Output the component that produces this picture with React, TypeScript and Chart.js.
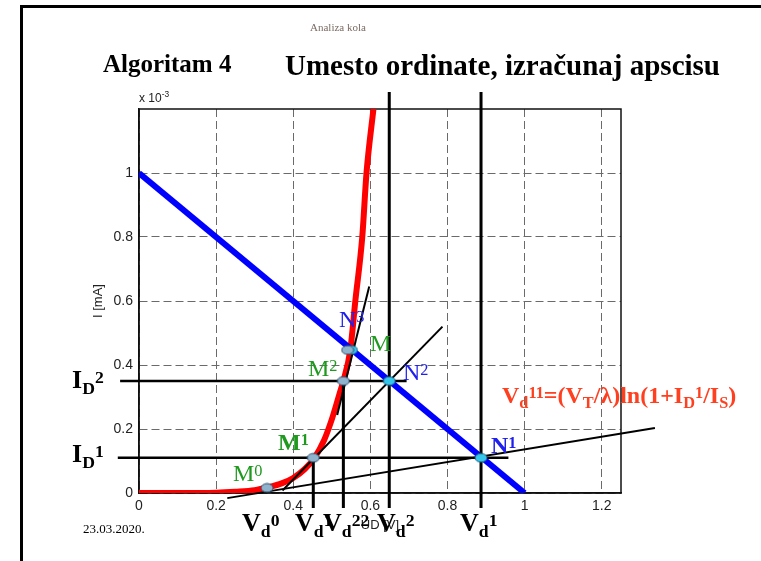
import React, { useEffect, useRef } from 'react';
import { Chart, registerables } from 'chart.js';

Chart.register(...registerables);

// ---- axis ticks ----
const X_TICKS = [0, 0.2, 0.4, 0.6, 0.8, 1, 1.2];
const Y_TICKS = [0, 0.2, 0.4, 0.6, 0.8, 1];
const X_MIN = 0;
const X_MAX = 1.25;
const Y_MIN = 0;
const Y_MAX = 1.2;

// ---- load line (blue) ----
const LOAD_X = [0, 1.0];
const LOAD_Y = [1.0, 0];

// ---- diode characteristic (red) ----
const DIODE_X = [0, 0.1, 0.2, 0.25, 0.3, 0.335, 0.37, 0.4, 0.43, 0.455, 0.48, 0.5, 0.52, 0.53, 0.548, 0.561, 0.579, 0.59, 0.608];
const DIODE_Y = [0, 0, 0.001, 0.004, 0.009, 0.018, 0.03, 0.047, 0.075, 0.11, 0.165, 0.23, 0.31, 0.35, 0.447, 0.6, 0.8, 1.0, 1.2];

// ---- tangent lines (black) ----
const TAN0_X = [0.229, 1.338];
const TAN0_Y = [-0.016, 0.203];
const TAN1_X = [0.372, 0.787];
const TAN1_Y = [0.008, 0.52];
const TAN2_X = [0.514, 0.597];
const TAN2_Y = [0.244, 0.645];

// ---- current levels I_D^1, I_D^2 (horizontal arrows) ----
const ID1_X = [-0.055, 0.958];
const ID1_Y = [0.11, 0.11];
const ID2_X = [-0.049, 0.694];
const ID2_Y = [0.35, 0.35];

// ---- voltage levels (vertical lines) ----
const VD_A_X = [0.452, 0.452];
const VD_A_Y = [0.11, -0.047];
const VD_B_X = [0.53, 0.53];
const VD_B_Y = [0.35, -0.047];
const VD_C_X = [0.649, 0.649];
const VD_C_Y = [1.253, -0.047];
const VD_D_X = [0.887, 0.887];
const VD_D_Y = [1.253, -0.047];

// ---- points M (on diode curve) and N (on load line) ----
const M_X = [0.332, 0.452, 0.53, 0.541];
const M_Y = [0.016, 0.11, 0.35, 0.447];
const N_X = [0.551, 0.649, 0.887];
const N_Y = [0.447, 0.35, 0.11];

const zip = (xs: number[], ys: number[]) => xs.map((x, i) => ({ x, y: ys[i] }));

function ellipse(fill: string, stroke: string) {
  const c = document.createElement('canvas');
  c.width = 14;
  c.height = 11;
  const g = c.getContext('2d')!;
  g.beginPath();
  g.ellipse(7, 5.5, 6, 4.3, 0, 0, Math.PI * 2);
  g.fillStyle = fill;
  g.fill();
  g.lineWidth = 1;
  g.strokeStyle = stroke;
  g.stroke();
  return c;
}

const fmt = (v: number) => String(Math.round(v * 10) / 10);

type LProps = {
  x: number;
  base: number;
  size: number;
  color?: string;
  bold?: boolean;
  family?: string;
  children: React.ReactNode;
};

function L({ x, base, size, color = '#000', bold = true, family = "'Liberation Serif', 'Times New Roman', serif", children }: LProps) {
  const asc = family.includes('Sans') ? 0.8465 : 0.8375;
  return (
    <div
      style={{
        position: 'absolute',
        left: x,
        top: base - asc * size,
        fontFamily: family,
        fontSize: size,
        fontWeight: bold ? 'bold' : 'normal',
        color,
        lineHeight: 1,
        whiteSpace: 'nowrap',
      }}
    >
      {children}
    </div>
  );
}

const Sub = ({ children }: { children: React.ReactNode }) => (
  <span style={{ fontSize: '0.68em', position: 'relative', top: '0.3em' }}>{children}</span>
);
const Sup = ({ children }: { children: React.ReactNode }) => (
  <span style={{ fontSize: '0.68em', position: 'relative', top: '-0.32em' }}>{children}</span>
);

export default function App() {
  const ref = useRef<HTMLCanvasElement | null>(null);

  useEffect(() => {
    if (!ref.current) return;
    const mStyle = ellipse('#8fb3cc', '#2f4f6f');
    const nStyle = ellipse('#36c6ec', '#1f5f7f');

    const black = (xs: number[], ys: number[], w: number, extra: any = {}) => ({
      data: zip(xs, ys),
      showLine: true,
      borderColor: '#000',
      backgroundColor: '#000',
      borderWidth: w,
      pointRadius: 0,
      clip: false,
      order: 1,
      ...extra,
    });

    const arrowPts = { pointRadius: [5, 0], pointStyle: 'triangle', pointRotation: [270, 0], pointBorderWidth: 0 };

    const boxPlugin = {
      id: 'box',
      beforeDatasetsDraw(chart: any) {
        const { ctx, chartArea: a } = chart;
        ctx.save();
        ctx.lineWidth = 1.5;
        ctx.strokeStyle = '#111';
        ctx.strokeRect(a.left, a.top, a.right - a.left, a.bottom - a.top);
        ctx.restore();
      },
    };

    const chart = new Chart(ref.current, {
      type: 'scatter',
      data: {
        datasets: [
          {
            data: zip(M_X, M_Y),
            pointStyle: mStyle as any,
            pointRadius: 6,
            order: 0,
          },
          {
            data: zip(N_X, N_Y),
            pointStyle: nStyle as any,
            pointRadius: 6,
            order: 0,
          },
          black(TAN0_X, TAN0_Y, 2),
          black(TAN1_X, TAN1_Y, 2),
          black(TAN2_X, TAN2_Y, 2),
          black(ID1_X, ID1_Y, 2.5, arrowPts),
          black(ID2_X, ID2_Y, 2.5, arrowPts),
          black(VD_A_X, VD_A_Y, 3),
          black(VD_B_X, VD_B_Y, 3),
          black(VD_C_X, VD_C_Y, 3),
          black(VD_D_X, VD_D_Y, 3),
          {
            data: zip(LOAD_X, LOAD_Y),
            showLine: true,
            borderColor: '#0000ff',
            borderWidth: 6,
            pointRadius: 0,
            order: 2,
          },
          {
            data: zip(DIODE_X, DIODE_Y),
            showLine: true,
            borderColor: '#ff0000',
            borderWidth: 6,
            pointRadius: 0,
            cubicInterpolationMode: 'monotone',
            order: 3,
          },
        ] as any,
      },
      options: {
        animation: false,
        responsive: false,
        maintainAspectRatio: false,
        events: [],
        layout: { padding: { left: 99, right: 140, top: 109, bottom: 38 } },
        plugins: { legend: { display: false }, tooltip: { enabled: false }, title: { display: false } },
        scales: {
          x: {
            type: 'linear',
            min: X_MIN,
            max: X_MAX,
            afterBuildTicks: (s: any) => {
              s.ticks = X_TICKS.map((v) => ({ value: v }));
            },
            afterFit: (s: any) => {
              s.height = 30;
            },
            ticks: {
              callback: (v: any) => fmt(Number(v)),
              color: '#222',
              padding: 5,
              maxRotation: 0,
              font: { family: "'Liberation Sans', Arial, sans-serif", size: 14 },
            },
            grid: { color: '#6a6a6a', lineWidth: 1, drawTicks: false },
            border: { display: true, color: '#111', width: 1.5, dash: [8, 4] },
          },
          y: {
            type: 'linear',
            min: Y_MIN,
            max: Y_MAX,
            afterBuildTicks: (s: any) => {
              s.ticks = Y_TICKS.map((v) => ({ value: v }));
            },
            afterFit: (s: any) => {
              s.width = 40;
            },
            ticks: {
              callback: (v: any) => fmt(Number(v)),
              color: '#222',
              padding: 6,
              font: { family: "'Liberation Sans', Arial, sans-serif", size: 14 },
            },
            grid: { color: '#6a6a6a', lineWidth: 1, drawTicks: false },
            border: { display: true, color: '#111', width: 1.5, dash: [8, 4] },
          },
        },
      } as any,
      plugins: [boxPlugin],
    });
    return () => chart.destroy();
  }, []);

  const sans = "'Liberation Sans', Arial, sans-serif";
  const green = '#1f9a1f';
  const blue = '#2020ee';

  return (
    <div style={{ position: 'absolute', left: 0, top: 0, width: 761, height: 561, overflow: 'hidden', background: '#fff' }}>
      {/* slide frame */}
      <div style={{ position: 'absolute', left: 20, top: 5, width: 800, height: 600, borderLeft: '3px solid #000', borderTop: '3px solid #000' }} />
      <canvas ref={ref} width={761} height={561} style={{ position: 'absolute', left: 0, top: 0 }} />

      <L x={310} base={31} size={11} color="#7b6b63" bold={false}>Analiza kola</L>
      <L x={103} base={72} size={25}>Algoritam 4</L>
      <L x={285} base={75} size={29}>Umesto ordinate, izračunaj apscisu</L>

      <L x={139} base={102} size={12} bold={false} family={sans} color="#222">
        x 10<span style={{ fontSize: '0.7em', position: 'relative', top: '-0.6em' }}>-3</span>
      </L>
      <div
        style={{
          position: 'absolute',
          left: 97,
          top: 301,
          transform: 'translate(-50%, -50%) rotate(-90deg)',
          fontFamily: sans,
          fontSize: 13,
          color: '#222',
          whiteSpace: 'nowrap',
          lineHeight: 1,
        }}
      >
        I [mA]
      </div>
      <div style={{ position: 'absolute', left: 380, top: 518, transform: 'translateX(-50%)', fontFamily: sans, fontSize: 13, color: '#222', whiteSpace: 'nowrap', lineHeight: 1 }}>
        UD [V]
      </div>

      <L x={83} base={533} size={13} bold={false}>23.03.2020.</L>

      <L x={72} base={389} size={26}>I<Sub>D</Sub><Sup>2</Sup></L>
      <L x={72} base={463} size={26}>I<Sub>D</Sub><Sup>1</Sup></L>

      <L x={242} base={532} size={26}>V<Sub>d</Sub><Sup>0</Sup></L>
      <L x={295} base={532} size={26}>V<Sub>d</Sub><Sup>1</Sup></L>
      <L x={323} base={532} size={26}>V<Sub>d</Sub><Sup>22</Sup></L>
      <L x={377} base={532} size={26}>V<Sub>d</Sub><Sup>2</Sup></L>
      <L x={460} base={532} size={26}>V<Sub>d</Sub><Sup>1</Sup></L>

      <L x={502} base={403} size={24} color="#ff4020">
        V<Sub>d</Sub><Sup>11</Sup>=(V<Sub>T</Sub>/λ)ln(1+I<Sub>D</Sub><Sup>1</Sup>/I<Sub>S</Sub>)
      </L>

      <L x={233} base={481} size={24} color={green} bold={false}>M<Sup>0</Sup></L>
      <L x={278} base={450} size={24} color={green}>M<Sup>1</Sup></L>
      <L x={308} base={376} size={24} color={green} bold={false}>M<Sup>2</Sup></L>
      <L x={370} base={351} size={24} color={green} bold={false}>M</L>

      <L x={339} base={327} size={24} color={blue} bold={false}>N<Sup>3</Sup></L>
      <L x={403} base={380} size={24} color={blue} bold={false}>N<Sup>2</Sup></L>
      <L x={491} base={453} size={24} color={blue}>N<Sup>1</Sup></L>
    </div>
  );
}
